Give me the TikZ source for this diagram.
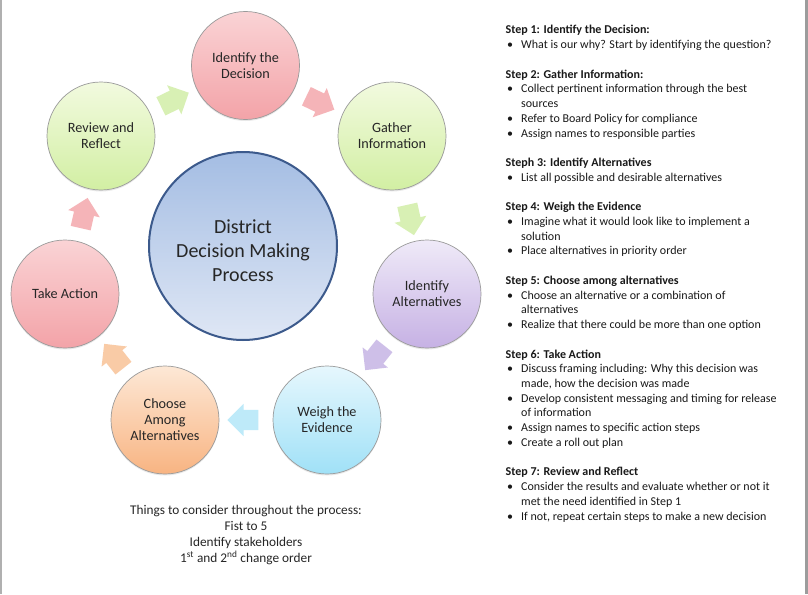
\documentclass[tikz,border=0pt]{standalone}
\usepackage{fontspec}
\setmainfont{Carlito}
\usetikzlibrary{calc,shapes.arrows,shadows}
\definecolor{pinkT}{HTML}{FAD3D5}
\definecolor{pinkB}{HTML}{F3A3A8}
\definecolor{greenT}{HTML}{F2FADF}
\definecolor{greenB}{HTML}{D2EFA3}
\definecolor{purpT}{HTML}{EFEAF8}
\definecolor{purpB}{HTML}{C6B1E4}
\definecolor{cyanT}{HTML}{E6F7FD}
\definecolor{cyanB}{HTML}{A0E1F7}
\definecolor{peachT}{HTML}{FDE8D6}
\definecolor{peachB}{HTML}{F8B482}
\definecolor{hubT}{HTML}{A4BDE3}
\definecolor{hubB}{HTML}{DFE7F5}
\definecolor{hubD}{HTML}{3C5A8C}
\definecolor{ringD}{HTML}{9A9A9A}
\definecolor{txt}{HTML}{262626}
\definecolor{arPink}{HTML}{F5B4B8}
\definecolor{arGreen}{HTML}{D8F0B4}
\definecolor{arPurp}{HTML}{CEBFE8}
\definecolor{arCyan}{HTML}{BEEAF9}
\definecolor{arPeach}{HTML}{F9CBA6}
\definecolor{edge}{HTML}{9C9C9C}
\newcommand\listfont{\fontsize{12}{14.7}\selectfont}
\newcommand\stephead[3]{\node[listtxt, font=\listfont\bfseries] (#1) at (505.5,{34+14.73*#2}) {#3};}
\newcommand\stepbul[3]{\node[listtxt] (#1) at (521,{34+14.73*#2}) {\llap{\makebox[14pt][l]{•}}#3};}
\newcommand\stepcont[3]{\node[listtxt] (#1) at (521,{34+14.73*#2}) {#3};}
\tikzset{
  x=1pt, y=-1pt,
  stage/.style={circle, minimum size=108pt, inner sep=0pt, draw=ringD, line width=0.7pt,
     align=center, text=txt, font=\fontsize{14.2}{16}\selectfont,
     drop shadow={opacity=0.18, shadow xshift=0pt, shadow yshift=-1.5pt}},
  hubstyle/.style={circle, minimum size=188pt, inner sep=0pt, draw=hubD, line width=2pt,
     top color=hubT, bottom color=hubB},
  hubtext/.style={align=center, text=txt, font=\fontsize{20}{24}\selectfont},
  blockarr/.style={single arrow, draw=none, fill=#1, minimum height=31pt,
     inner xsep=0pt, inner ysep=10pt, single arrow head extend=6pt},
  listtxt/.style={anchor=base west, inner sep=0pt, text=black!90, font=\listfont},
  notetxt/.style={anchor=base, inner sep=0pt, text=txt, font=\fontsize{13.3}{16}\selectfont},
}
\begin{document}
\begin{tikzpicture}
\useasboundingbox (0,0) rectangle (808,594);
\fill[white] (0,0) rectangle (808,594);
\fill[edge!80!white] (0,0) rectangle (1.6,594);
\fill[edge] (804.5,0) rectangle (808,594);

% hub
\node[hubstyle] (hub) at (243,246) {};
\node[hubtext] (hubt) at (243,251) {District\\Decision Making\\Process};

% stages
\node[stage, top color=pinkT, bottom color=pinkB] (dec) at (245.5,65.5) {Identify the\\Decision};
\node[stage, top color=greenT, bottom color=greenB] (gat) at (392,136) {Gather\\Information};
\node[stage, top color=purpT, bottom color=purpB] (alt) at (427,294) {Identify\\Alternatives};
\node[stage, top color=cyanT, bottom color=cyanB] (wei) at (327,420) {Weigh the\\Evidence};
\node[stage, top color=peachT, bottom color=peachB] (cho) at (165,420) {Choose\\Among\\Alternatives};
\node[stage, top color=pinkT, bottom color=pinkB] (act) at (65,294) {Take Action};
\node[stage, top color=greenT, bottom color=greenB] (rev) at (101,136) {Review and\\Reflect};

% block arrows between stages
\path let \p1=($(gat)-(dec)$) in node[blockarr=arPink, rotate={atan2(\y1,\x1)}] (a1) at ($(dec)!0.5!(gat)+(-3,0)$) {};
\path let \p1=($(alt)-(gat)$) in node[blockarr=arGreen, rotate={atan2(\y1,\x1)}] (a2) at ($(gat)!0.5!(alt)$) {};
\path let \p1=($(wei)-(alt)$) in node[blockarr=arPurp, rotate={atan2(\y1,\x1)}] (a3) at ($(alt)!0.5!(wei)+(1,-3)$) {};
\path let \p1=($(cho)-(wei)$) in node[blockarr=arCyan, rotate={atan2(\y1,\x1)}] (a4) at ($(wei)!0.5!(cho)+(2,0)$) {};
\path let \p1=($(act)-(cho)$) in node[blockarr=arPeach, rotate={atan2(\y1,\x1)}] (a5) at ($(cho)!0.5!(act)+(2,3)$) {};
\path let \p1=($(rev)-(act)$) in node[blockarr=arPink, rotate={atan2(\y1,\x1)}] (a6) at ($(act)!0.5!(rev)+(0,3)$) {};
\path let \p1=($(dec)-(rev)$) in node[blockarr=arGreen, rotate={atan2(\y1,\x1)}] (a7) at ($(rev)!0.5!(dec)+(-3,1)$) {};

% bottom note
\node[notetxt] (th1) at (246,514.5) {Things to consider throughout the process:};
\node[notetxt] (th2) at (246,530.5) {Fist to 5};
\node[notetxt] (th3) at (246,546.5) {Identify stakeholders};
\node[notetxt] (th4) at (246,562.5) {1\textsuperscript{st} and 2\textsuperscript{nd} change order};

% step list
\stephead{s1}{0}{Step 1: Identify the Decision:}
\stepbul{s1a}{1}{What is our why? Start by identifying the question?}
\stephead{s2}{3}{Step 2: Gather Information:}
\stepbul{s2a}{4}{Collect pertinent information through the best}
\stepcont{s2b}{5}{sources}
\stepbul{s2c}{6}{Refer to Board Policy for compliance}
\stepbul{s2d}{7}{Assign names to responsible parties}
\stephead{s3}{9}{Steph 3: Identify Alternatives}
\stepbul{s3a}{10}{List all possible and desirable alternatives}
\stephead{s4}{12}{Step 4: Weigh the Evidence}
\stepbul{s4a}{13}{Imagine what it would look like to implement a}
\stepcont{s4b}{14}{solution}
\stepbul{s4c}{15}{Place alternatives in priority order}
\stephead{s5}{17}{Step 5: Choose among alternatives}
\stepbul{s5a}{18}{Choose an alternative or a combination of}
\stepcont{s5b}{19}{alternatives}
\stepbul{s5c}{20}{Realize that there could be more than one option}
\stephead{s6}{22}{Step 6: Take Action}
\stepbul{s6a}{23}{Discuss framing including: Why this decision was}
\stepcont{s6b}{24}{made, how the decision was made}
\stepbul{s6c}{25}{Develop consistent messaging and timing for release}
\stepcont{s6d}{26}{of information}
\stepbul{s6e}{27}{Assign names to specific action steps}
\stepbul{s6f}{28}{Create a roll out plan}
\stephead{s7}{30}{Step 7: Review and Reflect}
\stepbul{s7a}{31}{Consider the results and evaluate whether or not it}
\stepcont{s7b}{32}{met the need identified in Step 1}
\stepbul{s7c}{33}{If not, repeat certain steps to make a new decision}
\end{tikzpicture}
\end{document}
